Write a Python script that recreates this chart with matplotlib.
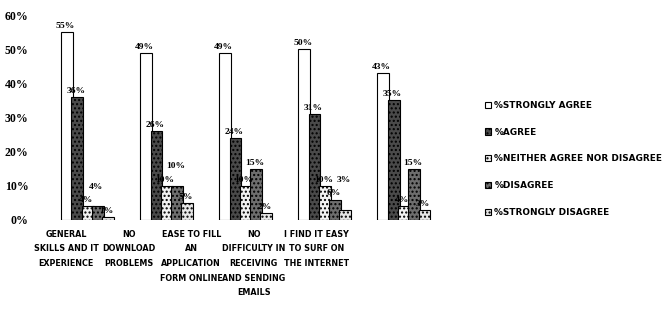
import matplotlib.pyplot as plt
import numpy as np

# survey results, % of respondents
categories = ['GENERAL\nSKILLS AND IT\nEXPERIENCE', 'NO\nDOWNLOAD\nPROBLEMS',
              'EASE TO FILL\nAN\nAPPLICATION\nFORM ONLINE',
              'NO\nDIFFICULTY IN\nRECEIVING\nAND SENDING\nEMAILS',
              'I FIND IT EASY\nTO SURF ON\nTHE INTERNET']
strongly_agree = [55, 49, 49, 50, 43]
agree = [36, 26, 24, 31, 35]
neither = [4, 10, 10, 10, 4]
disagree = [4, 10, 15, 6, 15]
strongly_disagree = [1, 5, 2, 3, 3]

series = [('%STRONGLY AGREE', strongly_agree, 'white'),
          ('%AGREE', agree, '#4a4a4a'),
          ('%NEITHER AGREE NOR DISAGREE', neither, '#f2f2f2'),
          ('%DISAGREE', disagree, '#6e6e6e'),
          ('%STRONGLY DISAGREE', strongly_disagree, '#e6e6e6')]

font = ['Liberation Sans Narrow', 'DejaVu Sans']

fig = plt.figure(figsize=(6.67, 3.2), dpi=100)
ax = fig.add_axes([45/667, 1-220/320, 415/667, 205/320])

x = np.arange(len(categories))
w = 0.15
prev_y = [None] * len(categories)
for k, (name, vals, col) in enumerate(series):
    pos = x + (k - 2) * 0.13
    ax.bar(pos, vals, w, color=col, edgecolor='black', linewidth=0.8,
           hatch='....' if col != 'white' else None, label=name)
    for i, (p, v) in enumerate(zip(pos, vals)):
        ty = v + 0.6
        # stagger labels of neighbouring bars that would collide
        if prev_y[i] is not None and abs(ty - prev_y[i]) < 4:
            ty = prev_y[i] + 4
        prev_y[i] = ty
        ax.text(p - 0.02, ty, f'{v}%', ha='center', va='bottom', fontsize=6.8,
                fontweight='bold', family='Liberation Serif')

ax.set_ylim(0, 60)
ax.set_xlim(-0.54, 4.71)
ax.set_yticks(range(0, 61, 10))
ax.set_yticklabels([f'{t}%' for t in range(0, 61, 10)], fontsize=8.5,
                   fontweight='bold', family='Liberation Serif')
# labels in the scan sit left of the bar groups
ax.set_xticks(x * 0.79 - 0.27)
ax.set_xticklabels(categories, fontsize=5.8, fontweight='bold', family=font,
                   linespacing=1.8)
ax.tick_params(length=0, pad=7)
ax.tick_params(axis='y', pad=12)
for s in ax.spines.values():
    s.set_visible(False)

ax.legend(loc='upper left', bbox_to_anchor=(1.04, 0.62), frameon=False,
          prop={'family': font, 'weight': 'bold', 'size': 6.4},
          handlelength=0.7, handleheight=0.7, labelspacing=2.0, handletextpad=0.4)

fig.savefig('out.png', dpi=100)
